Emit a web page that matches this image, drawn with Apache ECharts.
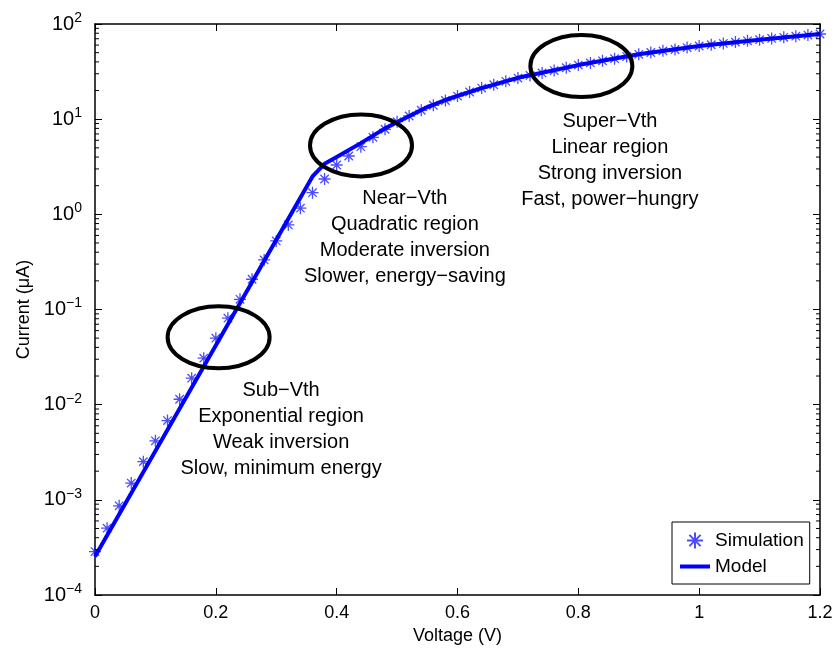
<!DOCTYPE html>
<html><head><meta charset="utf-8">
<script src="https://cdn.jsdelivr.net/npm/echarts@6/dist/echarts.min.js"></script>
<style>html,body{margin:0;padding:0;background:#fff}#c{width:837px;height:658px}</style>
</head><body><div id="c"></div>
<script>
// ---- data ----
const simVoltage = [0.00,0.02,0.04,0.06,0.08,0.10,0.12,0.14,0.16,0.18,0.20,0.22,0.24,0.26,0.28,0.30,0.32,0.34,0.36,0.38,0.40,0.42,0.44,0.46,0.48,0.50,
  0.52,0.54,0.56,0.58,0.60,0.62,0.64,0.66,0.68,0.70,0.72,0.74,0.76,0.78,0.80,0.82,0.84,0.86,0.88,0.90,0.92,0.94,0.96,0.98,1.00,
  1.02,1.04,1.06,1.08,1.10,1.12,1.14,1.16,1.18,1.20];
const simCurrent = [2.86e-4,5.04e-4,8.65e-4,1.50e-3,2.52e-3,4.17e-3,6.81e-3,1.14e-2,1.90e-2,3.08e-2,5.0e-2,8.1e-2,0.128,0.208,0.332,0.526,0.774,1.16,1.69,2.35,3.30,4.10,5.14,6.45,7.83,9.4,
  10.8,12.4,14.0,15.7,17.5,19.3,21.2,23.0,25.0,27.0,28.8,30.6,32.4,34.7,37.0,39.0,41.0,43.2,45.5,48.0,50.2,52.2,54.0,56.5,58.7,
  60.5,62.5,64.5,66.5,68.5,70.5,72.5,74.5,76.5,78.5];
const modelVoltage = [0,0.36,0.38,0.40,0.44,0.48,0.50,0.55,0.58,0.60,0.64,0.70,0.80,0.90,1.00,1.10,1.20];
const modelCurrent = [2.54e-4,2.5,3.4,4.0,5.6,8.0,9.3,13.4,15.9,17.6,21.2,27.2,37.0,48.0,58.7,68.5,78.5];
const yTickExponents = ['\u22124','\u22123','\u22122','\u22121','0','1','2'];
const seriesNames = ['Simulation','Model'];
const regionTexts = [
  ['Sub\u2212Vth','Exponential region','Weak inversion','Slow, minimum energy'],
  ['Near\u2212Vth','Quadratic region','Moderate inversion','Slower, energy\u2212saving'],
  ['Super\u2212Vth','Linear region','Strong inversion','Fast, power\u2212hungry']
];
const axisTitles = { x: 'Voltage (V)', y: 'Current (\u03bcA)' };

// ---- chart ----
const FF = '"Liberation Sans", Arial, Helvetica, sans-serif';
const chart = echarts.init(document.getElementById('c'), null, {renderer: 'canvas'});
const starPath = 'path://M6,0L6,12M0,6L12,6M1.8,1.8L10.2,10.2M1.8,10.2L10.2,1.8';

const baseAxisLine = {show: true, onZero: false, lineStyle: {color: '#000', width: 1.5}};
const option = {
  animation: false,
  backgroundColor: '#fff',
  grid: {left: 95, right: 17, top: 24, bottom: 63, containLabel: false},
  legend: {
    data: [
      {name: seriesNames[0]},
      {name: seriesNames[1], itemStyle: {opacity: 0}, lineStyle: {width: 4, color: '#0000ff'}}
    ],
    orient: 'vertical', left: 672, top: 522,
    itemWidth: 30, itemHeight: 16, itemGap: 6, padding: [8, 6, 8, 6],
    backgroundColor: '#fff', borderColor: '#000', borderWidth: 1, borderRadius: 0,
    textStyle: {fontSize: 19, color: '#000', fontFamily: FF}, selectedMode: false
  },
  xAxis: [
    {type: 'value', min: 0, max: 1.2, interval: 0.2, position: 'bottom',
     axisLine: baseAxisLine, splitLine: {show: false},
     axisTick: {inside: true, length: 7, lineStyle: {color: '#000', width: 1}},
     axisLabel: {color: '#000', fontSize: 18, fontFamily: FF, margin: 9},
     name: axisTitles.x, nameLocation: 'middle', nameGap: 31,
     nameTextStyle: {color: '#000', fontSize: 18, fontFamily: FF}},
    {type: 'value', min: 0, max: 1.2, interval: 0.2, position: 'top',
     axisLine: baseAxisLine, splitLine: {show: false},
     axisTick: {inside: true, length: 7, lineStyle: {color: '#000', width: 1}},
     axisLabel: {show: false}}
  ],
  yAxis: [
    {type: 'log', logBase: 10, min: 1e-4, max: 100, position: 'left',
     axisLine: baseAxisLine, splitLine: {show: false},
     axisTick: {inside: true, length: 7, lineStyle: {color: '#000', width: 1}},
     axisLabel: {color: '#000', fontFamily: FF, margin: 13,
       formatter: v => {
         const i = Math.round(Math.log10(v)) + 4;
         return '{b|10}{s|' + yTickExponents[i] + '}';
       },
       rich: {
         b: {fontSize: 20, lineHeight: 26, fontFamily: FF, color: '#000'},
         s: {fontSize: 14, lineHeight: 14, verticalAlign: 'top', fontFamily: FF, color: '#000'}
       }},
     name: axisTitles.y, nameLocation: 'middle', nameGap: 62,
     nameTextStyle: {color: '#000', fontSize: 18, fontFamily: FF}},
    {type: 'log', logBase: 10, min: 1e-4, max: 100, position: 'right',
     axisLine: baseAxisLine, splitLine: {show: false},
     axisTick: {inside: true, length: 7, lineStyle: {color: '#000', width: 1}},
     axisLabel: {show: false}}
  ],
  series: [
    {name: seriesNames[0], type: 'scatter', xAxisIndex: 0, yAxisIndex: 0,
     data: simVoltage.map((v, i) => [v, simCurrent[i]]),
     symbol: starPath, symbolSize: 12, z: 2, silent: true,
     itemStyle: {color: 'none', borderColor: '#1f1fff', borderWidth: 1.3},
     emphasis: {disabled: true}},
    {name: seriesNames[1], type: 'line', xAxisIndex: 0, yAxisIndex: 0,
     data: modelVoltage.map((v, i) => [v, modelCurrent[i]]),
     symbol: 'none', showSymbol: false, z: 3, silent: true,
     lineStyle: {color: '#0000ff', width: 4}, itemStyle: {color: '#0000ff'},
     emphasis: {disabled: true}}
  ]
};
chart.setOption(option);

// ---- annotations anchored through the axes ----
const P = (x, y) => chart.convertToPixel({gridIndex: 0}, [x, y]);
const g = [];
// minor ticks on log axes (2..9 of each decade), both sides
const leftX = P(0, 1)[0], rightX = P(1.2, 1)[0];
for (let k = -4; k < 2; k++) {
  for (let m = 2; m <= 9; m++) {
    const yy = P(0, m * Math.pow(10, k))[1];
    g.push({type: 'line', silent: true, z: 10, shape: {x1: leftX, y1: yy, x2: leftX + 4, y2: yy}, style: {stroke: '#000', lineWidth: 1}});
    g.push({type: 'line', silent: true, z: 10, shape: {x1: rightX, y1: yy, x2: rightX - 4, y2: yy}, style: {stroke: '#000', lineWidth: 1}});
  }
}
// ellipses
const ellipseCenters = [[0.2046, 0.051], [0.4403, 5.3], [0.805, 36.2]];
ellipseCenters.forEach(c => {
  const p = P(c[0], c[1]);
  g.push({type: 'ellipse', silent: true, z: 20, shape: {cx: p[0], cy: p[1], rx: 51, ry: 31},
          style: {fill: 'none', stroke: '#000', lineWidth: 4}});
});
// text blocks (anchor = centre of first line)
const textAnchors = [[0.308, 0.01396], [0.5129, 10 ** (2 - (199 - 24) / 95.2)], [0.8523, 10 ** (2 - (122 - 24) / 95.2)]];
regionTexts.forEach((lines, bi) => {
  const p = P(textAnchors[bi][0], textAnchors[bi][1]);
  lines.forEach((t, li) => {
    g.push({type: 'text', silent: true, z: 20, x: p[0], y: p[1] + li * 26,
            style: {text: t, fill: '#000', font: '20px ' + FF, align: 'center', verticalAlign: 'middle'}});
  });
});
chart.setOption({graphic: {elements: g}});
</script></body></html>
